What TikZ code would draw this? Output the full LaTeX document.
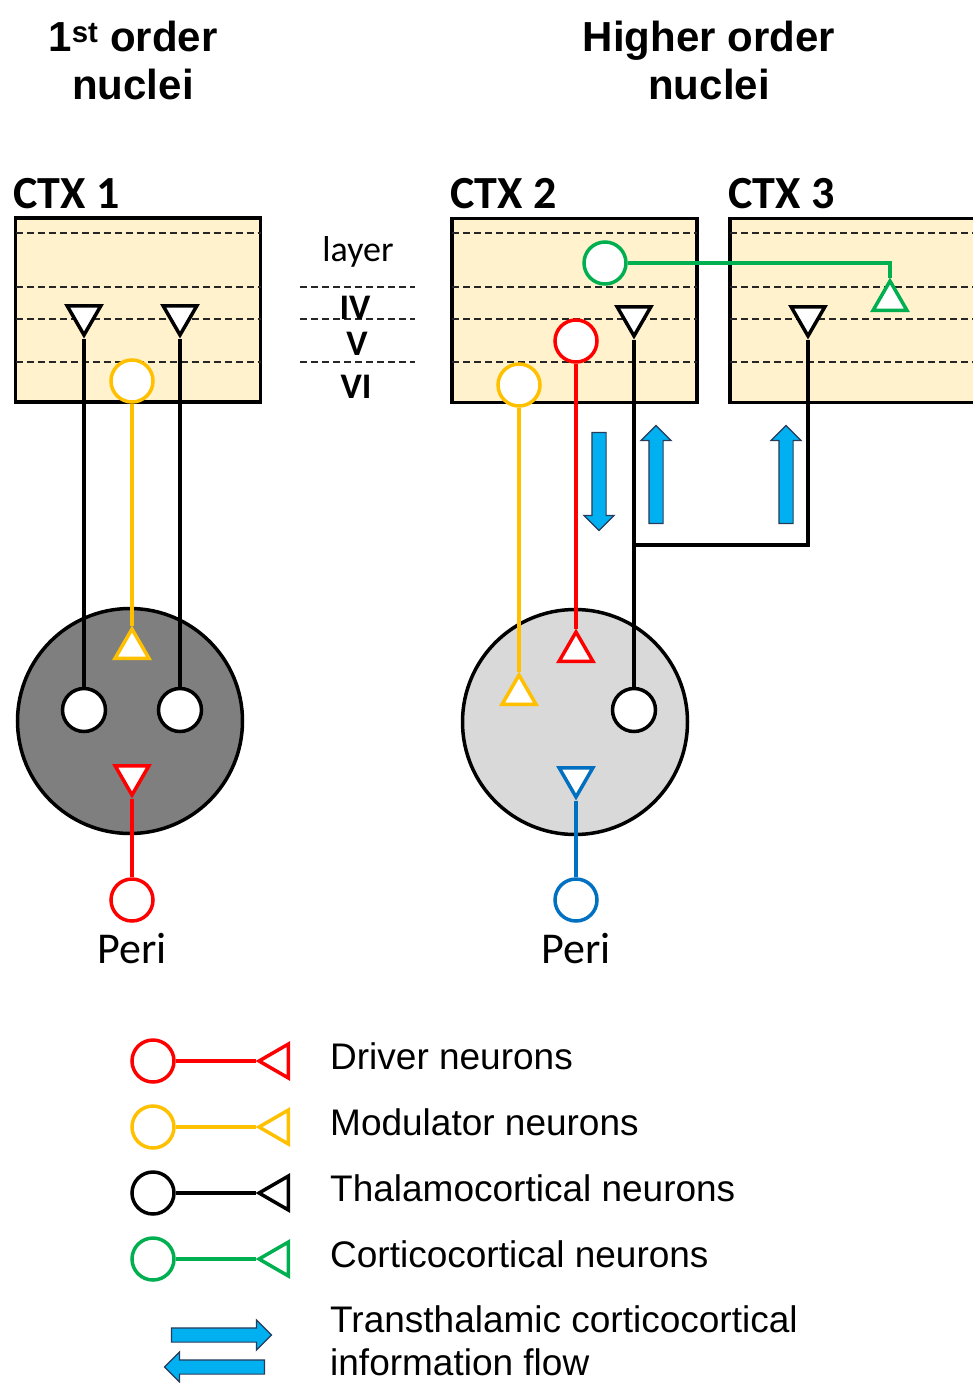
\documentclass[tikz,border=0pt]{standalone}
\usepackage{fontspec}
\setmainfont{Liberation Sans}
\newfontfamily\calibri{Carlito}
\usetikzlibrary{positioning, calc, shapes.geometric, shapes.arrows, arrows.meta}
\definecolor{ctxfill}{RGB}{255,242,204}
\definecolor{drvred}{RGB}{255,0,0}
\definecolor{modyel}{RGB}{255,192,0}
\definecolor{ccgreen}{RGB}{0,176,80}
\definecolor{periblue}{RGB}{0,112,192}
\definecolor{flowblue}{RGB}{0,176,240}
\definecolor{flowedge}{RGB}{40,60,90}
\definecolor{fonuc}{RGB}{127,127,127}
\definecolor{honuc}{RGB}{217,217,217}

\begin{document}
\begin{tikzpicture}[
        x=1pt, y=-1pt,
        ctx/.style={rectangle, draw=black, fill=ctxfill, line width=3.5pt,
                    minimum width=245pt, minimum height=184pt, inner sep=0pt, outer sep=0pt},
        layerline/.style={dash pattern=on 7pt off 4pt, line width=2pt, black!85},
        soma/.style={circle, draw, fill=white, line width=3.5pt,
                     minimum size=42pt, inner sep=0pt},
        tcsoma/.style={soma, draw=black, minimum size=43pt},
        synup/.style={regular polygon, regular polygon sides=3, draw, fill=white,
                      line width=3.5pt, minimum size=39pt, inner sep=0pt},
        syndown/.style={synup, shape border rotate=180},
        synleft/.style={synup, shape border rotate=90},
        axon/.style={line width=3.2pt},
        nucleus/.style={circle, draw=black, line width=3.5pt, minimum size=225pt, inner sep=0pt},
        flow/.style={single arrow, draw=flowedge, fill=flowblue, line width=1.2pt,
                     inner sep=0pt, inner ysep=6.5pt, single arrow head extend=8pt,
                     minimum height=98pt},
        title/.style={font=\fontsize{42}{48}\selectfont\bfseries, anchor=base, inner sep=0pt},
        ctxlabel/.style={font=\fontsize{46}{50}\selectfont\calibri\bfseries,
                         anchor=base west, inner sep=0pt},
        laylabel/.style={font=\fontsize{36}{40}\selectfont\calibri\bfseries, anchor=base, inner sep=0pt},
        perilabel/.style={font=\fontsize{44}{48}\selectfont\calibri, inner sep=0pt},
        legtext/.style={font=\fontsize{37}{44}\selectfont, anchor=base west, inner sep=0pt},
    ]
    \useasboundingbox (0,0) rectangle (973,1383);

    % ---- Titles ----
    \node[title] (T1a) at (133,52) {1\textsuperscript{st} order};
    \node[title] (T1b) at (133,100) {nuclei};
    \node[title] (T2a) at (709,52) {Higher order};
    \node[title] (T2b) at (709,100) {nuclei};

    % ---- Cortical areas with layers ----
    \node[ctx] (CTX1) at (138,310) {};
    \node[ctx] (CTX2) at (574.5,310.5) {};
    \node[ctx] (CTX3) at (852.5,310.5) {};
    \foreach \c in {1,2,3} {
        \foreach \ly in {233,287,319,362} {
            \draw[layerline] (CTX\c.west |- 0,\ly) -- (CTX\c.east |- 0,\ly);
        }
    }
    \node[ctxlabel] (L1) at (13,208) {CTX 1};
    \node[ctxlabel] (L2) at (450,208) {CTX 2};
    \node[ctxlabel] (L3) at (728,208) {CTX 3};

    % ---- Layer legend ----
    \node[laylabel, font=\fontsize{36}{40}\selectfont\calibri] (LAYER) at (358,261) {layer};
    \foreach \ly in {287,319,362} {
        \draw[layerline] (300,\ly) -- (415,\ly);
    }
    \node[laylabel] (IV) at (355,319) {IV};
    \node[laylabel] (V) at (357,355) {V};
    \node[laylabel] (VI) at (356,398) {VI};

    % ---- Thalamic nuclei ----
    \node[nucleus, fill=fonuc] (FO) at (130,721) {};
    \node[nucleus, fill=honuc] (HO) at (575,722) {};

    % ---- 1st order circuit ----
    \node[syndown, draw=black] (TS1a) at (84,315.5) {};
    \node[syndown, draw=black] (TS1b) at (180,315.5) {};
    \node[soma, draw=modyel] (MOD1) at (132,381) {};
    \node[tcsoma] (TC1a) at (84,710) {};
    \node[tcsoma] (TC1b) at (180,710) {};
    \node[synup, draw=modyel] (MS1) at (132,648.5) {};
    \node[syndown, draw=drvred] (DS1) at (132,775.5) {};
    \node[soma, draw=drvred] (PERI1) at (132,900) {};
    \node[perilabel, below=10pt of PERI1] (P1) {Peri};

    \draw[axon, black] (TS1a.corner 1) -- (TC1a.north);
    \draw[axon, black] (TS1b.corner 1) -- (TC1b.north);
    \draw[axon, modyel] (MOD1.south) -- (MS1.corner 1);
    \draw[axon, drvred] (DS1.corner 1) -- (PERI1.north);

    % ---- Higher order circuit ----
    \node[soma, draw=ccgreen] (CC2) at (605,263) {};
    \node[synup, draw=ccgreen] (CS3) at (890,300.5) {};
    \node[syndown, draw=black] (TS2) at (634,316.5) {};
    \node[syndown, draw=black] (TS3) at (808,316.5) {};
    \node[soma, draw=drvred] (DRV2) at (576,341) {};
    \node[soma, draw=modyel] (MOD2) at (519,385) {};
    \node[synup, draw=drvred] (DS2) at (576,651.5) {};
    \node[synup, draw=modyel] (MS2) at (519,694.5) {};
    \node[tcsoma] (TC2) at (634,710) {};
    \node[syndown, draw=periblue] (BS2) at (576,777.5) {};
    \node[soma, draw=periblue] (PERI2) at (576,900) {};
    \node[perilabel, below=10pt of PERI2] (P2) {Peri};
    \coordinate (JOIN) at (634,545);

    \draw[axon, ccgreen] (CC2.east) -| (CS3.corner 1);
    \draw[axon, black] (TS2.corner 1) -- (TC2.north);
    \draw[axon, black] (TS3.corner 1) |- (JOIN);
    \draw[axon, drvred] (DRV2.south) -- (DS2.corner 1);
    \draw[axon, modyel] (MOD2.south) -- (MS2.corner 1);
    \draw[axon, periblue] (BS2.corner 1) -- (PERI2.north);

    % ---- Transthalamic flow arrows ----
    \node[flow, rotate=-90] (FDOWN) at (599,478) {};
    \node[flow, rotate=90] (FUP1) at (656,478) {};
    \node[flow, rotate=90] (FUP2) at (786,478) {};

    % ---- Legend ----
    \foreach \n/\col/\y/\txt in {drv/drvred/1061/Driver neurons,
                                mod/modyel/1127/Modulator neurons,
                                tc/black/1193/Thalamocortical neurons,
                                cc/ccgreen/1259/Corticocortical neurons} {
        \node[soma, draw=\col] (LS\n) at (153,\y) {};
        \node[synleft, draw=\col] (LT\n) at (278.5,\y) {};
        \draw[axon, \col] (LS\n.east) -- (LT\n.corner 1);
        \node[legtext] (LX\n) at (330,\y+8) {\txt};
    }
    \node[flow, minimum height=100pt] (LFR) at (218,1335) {};
    \node[flow, minimum height=100pt, rotate=180] (LFL) at (218,1367) {};
    \node[legtext] (LF1) at (330,1332) {Transthalamic corticocortical};
    \node[legtext] (LF2) at (330,1375) {information flow};

\end{tikzpicture}
\end{document}
